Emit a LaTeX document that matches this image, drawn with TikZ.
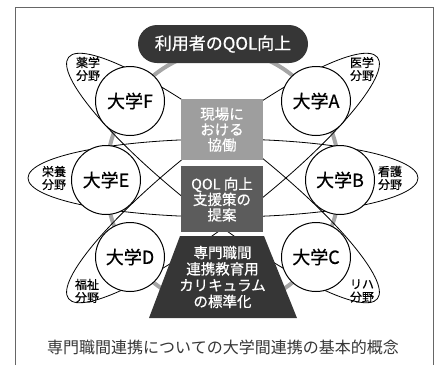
\documentclass[tikz,border=0pt]{standalone}
\usepackage{fontspec}
\setmainfont{Noto Sans CJK JP}
\newfontfamily\medgothic{Noto Sans CJK JP}[FakeBold=0.6]
\usetikzlibrary{positioning}
\definecolor{ringgray}{HTML}{A6A6A6}
\definecolor{boxlight}{HTML}{9E9E9E}
\definecolor{boxmid}{HTML}{5C5C5C}
\definecolor{boxdark}{HTML}{363636}
\definecolor{framegray}{HTML}{666666}
\tikzset{
	univ/.style={circle, draw, line width=1pt, fill=white, minimum size=69pt, inner sep=0pt, font=\medgothic\fontsize{18}{20}\selectfont},
	field/.style={align=center, inner sep=0pt, font=\medgothic\fontsize{12}{13}\selectfont},
	petal/.style={draw, line width=0.8pt},
	centerbox/.style={minimum width=82pt, inner sep=0pt, align=center, text=white, font=\medgothic\fontsize{14.5}{15.5}\selectfont},
}

\begin{document}
\begin{tikzpicture}[x=1pt,y=-1pt]
		\useasboundingbox (0,0) rectangle (438,365);
		\draw[framegray, line width=0.8pt] (15,365) -- (15,7) -- (433,7) -- (433,365);
		\coordinate (mitte) at (223,178);
		% ring behind the universities
		\draw[ringgray, line width=4pt] (223,179) ellipse [x radius=117pt, y radius=128.6pt];
		% petals
		\draw[petal] (mitte) ellipse [x radius=195pt, y radius=39pt];
		\draw[petal, rotate around={-38:(mitte)}] (mitte) ellipse [x radius=196pt, y radius=40pt];
		\draw[petal, rotate around={38:(mitte)}] (mitte) ellipse [x radius=196pt, y radius=40pt];
		\node[univ] (uniF) at (130,101) {大学F};
		\node[univ] (uniA) at (316,101) {大学A};
		\node[univ] (uniE) at (106,180) {大学E};
		\node[univ] (uniB) at (340,180) {大学B};
		\node[univ] (uniD) at (130,257) {大学D};
		\node[univ] (uniC) at (316,257) {大学C};
		\node[field] (yaku) at (88,69) {薬学\\分野};
		\node[field] (igaku) at (362,69) {医学\\分野};
		\node[field] (eiyo) at (54,178) {栄養\\分野};
		\node[field] (kango) at (390,178) {看護\\分野};
		\node[field] (fukushi) at (87,291) {福祉\\分野};
		\node[field] (riha) at (362,291) {リハ\\分野};
		\node[fill=boxdark, rounded corners=19pt, minimum width=170pt, minimum height=38pt, text=white, font=\medgothic\fontsize{17}{18}\selectfont] (qol) at (223,44) {利用者のQOL向上};
		\node[centerbox, fill=boxlight, minimum height=61pt] (genba) at (222,129.5) {現場に\\おける\\協働};
		\node[centerbox, fill=boxmid, minimum height=66pt, below=6pt of genba] (teian) {QOL 向上\\支援策の\\提案};
		\fill[boxdark] (180,236) -- (264,236) -- (297,318) -- (149,318) -- cycle;
		\node[centerbox, font=\medgothic\fontsize{14.5}{16.3}\selectfont] (kyoiku) at (222.5,277) {専門職間\\連携教育用\\カリキュラム\\の標準化};
		\node[text=boxdark, font=\fontsize{16}{18}\selectfont] (caption) at (223,347) {専門職間連携についての大学間連携の基本的概念};
	\end{tikzpicture}
\end{document}
